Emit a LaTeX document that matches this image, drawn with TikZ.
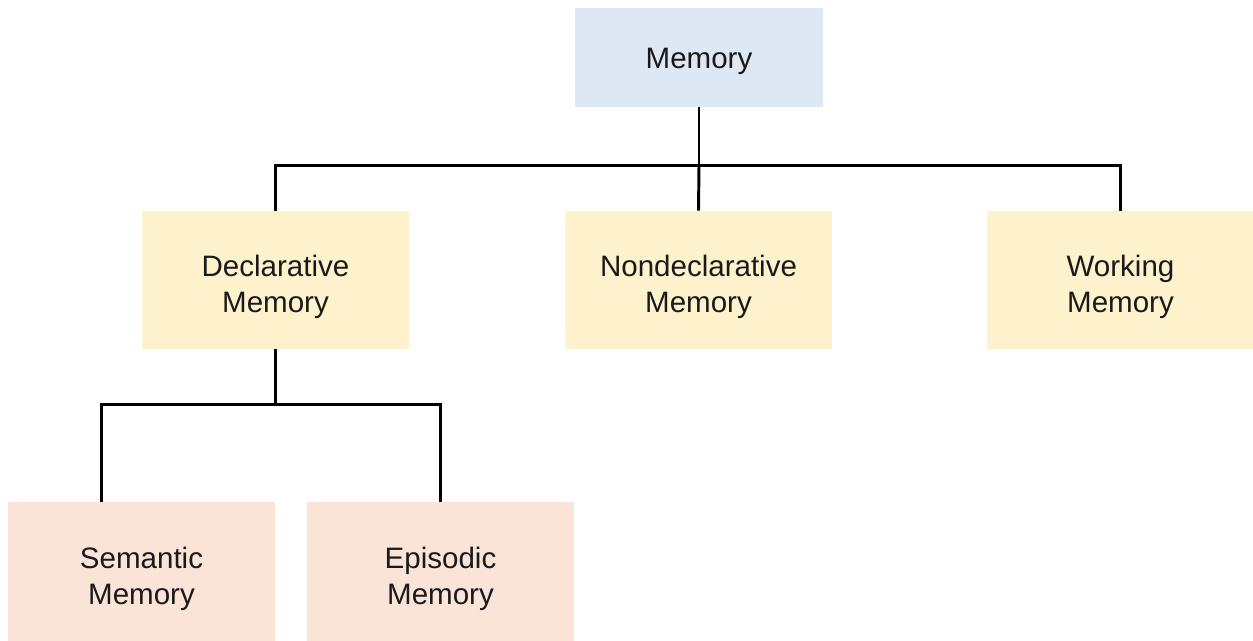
\documentclass[tikz,border=0pt]{standalone}
\usepackage{fontspec}
\setmainfont{Liberation Sans}
\usetikzlibrary{positioning,calc}
\definecolor{MemBlue}{HTML}{DDE8F4}
\definecolor{MemYellow}{HTML}{FDF2CC}
\definecolor{MemPeach}{HTML}{F9E4D7}
\definecolor{MemInk}{HTML}{1A1A1A}
\tikzset{
  memlink/.style={black,line width=2.1pt},
  membox/.style={draw=none,text=MemInk,align=center,inner sep=0pt,
                 minimum width=6.675cm,minimum height=3.45cm,
                 font=\fontsize{21}{25.6}\selectfont,
                 text height=1.8cm},
  memroot/.style={membox,fill=MemBlue,minimum width=6.2cm,minimum height=2.475cm,
                  text height=.55cm,text depth=0cm},
  memmid/.style={membox,fill=MemYellow},
  memleaf/.style={membox,fill=MemPeach},
}
\begin{document}
\begin{tikzpicture}[x=.025cm,y=-.025cm]
    \useasboundingbox (0,0) rectangle (1253,640);
    \node[memroot] (mem) at (699,57.5) {Memory};

    \node[memmid] (decl) at (275.5,280) {Declarative\\Memory};
    \node[memmid] (nondecl) at (698.5,280) {Nondeclarative\\Memory};
    \node[memmid] (work) at (1120.5,280) {Working\\Memory};

    \node[memleaf] (sem) at (141.5,571.5) {Semantic\\Memory};
    \node[memleaf] (epi) at (440.5,571.5) {Episodic\\Memory};

    \draw[memlink] (mem.south) -- ++(0,58) coordinate (mj);
    \draw[memlink] (decl.north) |- (mj) -| (work.north);
    \draw[memlink] (mj) -- (nondecl.north);
    \draw[memlink] (decl.south) -- ++(0,55) coordinate (dj);
    \draw[memlink] ([xshift=-1cm]sem.north) |- (dj) -| (epi.north);
  \end{tikzpicture}
\end{document}
